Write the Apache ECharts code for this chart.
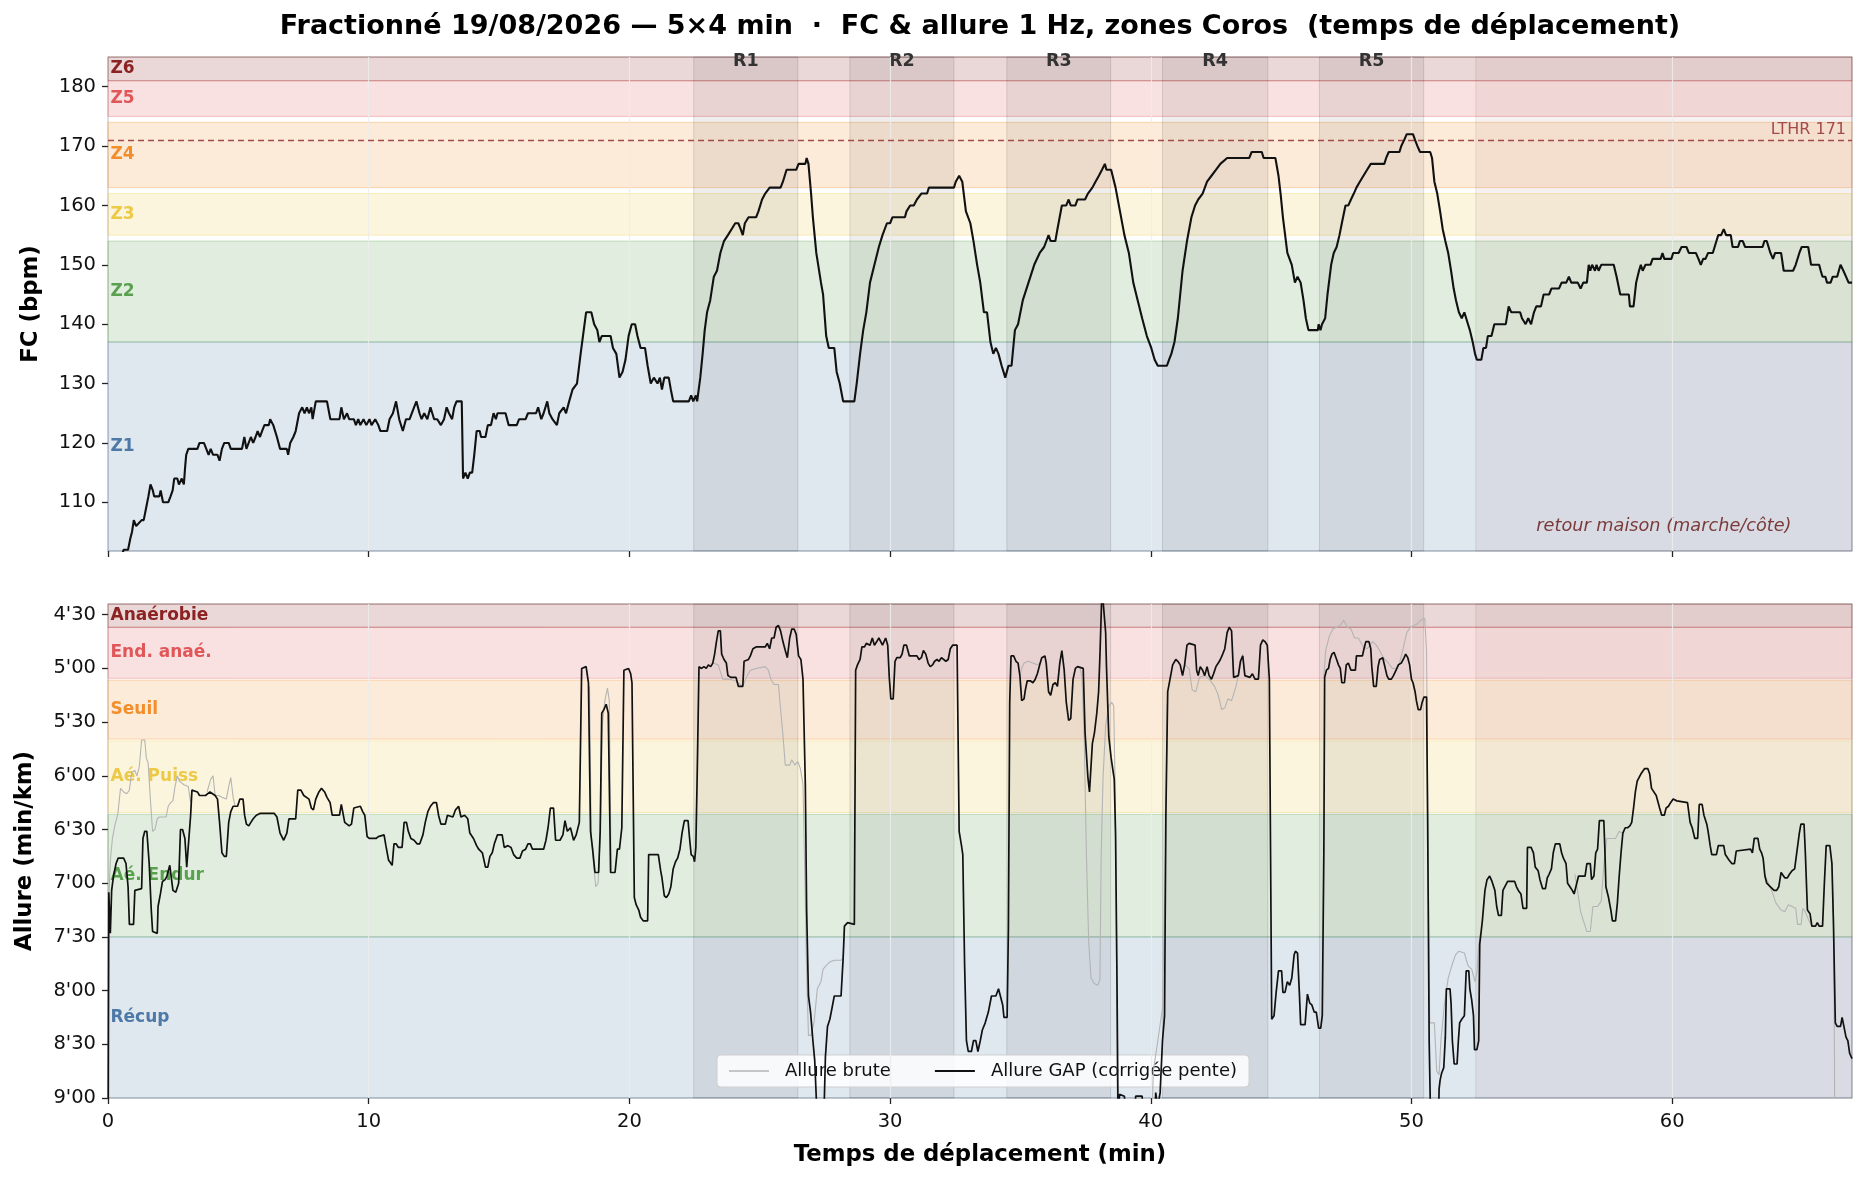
<!DOCTYPE html>
<html>
<head>
<meta charset="utf-8">
<script src="https://cdn.jsdelivr.net/npm/echarts@6/dist/echarts.min.js"></script>
<style>
  html, body { margin: 0; padding: 0; background: #fff; }
  #main { width: 1865px; height: 1179px; }
</style>
</head>
<body>
<div id="main"></div>
<script>
// ---- données ----
// FC (bpm) : [minute, bpm]
var fcPoints = [
  [0,96],[0.45,100],[0.6,102],[0.77,102],[0.86,104],[0.92,105],[0.99,107],[1.08,106],[1.29,107],[1.37,107],[1.46,109],[1.55,111],[1.63,113],[1.72,112],[1.77,111],[1.97,111],[2.02,112],[2.11,110],[2.31,110],[2.4,111],[2.48,112],[2.54,114],[2.66,114],[2.72,113],[2.83,114],[2.91,113],[2.96,116],[3.0,118],[3.08,119],[3.43,119],[3.51,120],[3.68,120],[3.77,119],[3.86,118],[3.94,119],[4.03,118],[4.2,118],[4.28,117],[4.37,119],[4.46,120],[4.63,120],[4.71,119],[5.14,119],[5.23,121],[5.31,119],[5.48,121],[5.57,120],[5.66,121],[5.74,122],[5.83,121],[5.91,122],[6.0,123],[6.17,123],[6.22,124],[6.34,123],[6.48,121],[6.6,119],[6.86,119],[6.91,118],[6.99,120],[7.11,121],[7.2,122],[7.33,125],[7.45,126],[7.54,125],[7.63,126],[7.71,125],[7.8,126],[7.85,124],[7.97,127],[8.4,127],[8.53,124],[8.88,124],[8.95,126],[9.05,124],[9.17,125],[9.25,124],[9.43,124],[9.51,123],[9.6,124],[9.68,123],[9.8,124],[9.91,123],[10.03,124],[10.11,123],[10.25,124],[10.37,123],[10.45,122],[10.71,122],[10.8,124],[10.93,125],[11.05,127],[11.17,124],[11.31,122],[11.43,124],[11.57,124],[11.74,126],[11.83,127],[11.95,125],[12.03,124],[12.13,125],[12.25,124],[12.37,126],[12.51,124],[12.63,124],[12.77,123],[12.89,124],[12.99,126],[13.08,125],[13.2,124],[13.28,126],[13.37,127],[13.57,127],[13.62,114],[13.71,115],[13.8,114],[13.88,115],[13.97,115],[14.05,118],[14.14,122],[14.26,122],[14.31,121],[14.48,121],[14.57,123],[14.69,123],[14.79,125],[14.88,124],[14.94,125],[15.25,125],[15.37,123],[15.68,123],[15.77,124],[16.02,124],[16.11,125],[16.42,125],[16.5,126],[16.62,124],[16.71,125],[16.85,127],[16.93,125],[17.05,124],[17.22,123],[17.31,125],[17.48,126],[17.57,125],[17.69,127],[17.82,129],[17.99,130],[18.13,135],[18.25,139],[18.34,142],[18.54,142],[18.65,140],[18.77,139],[18.85,137],[18.94,138],[19.28,138],[19.37,136],[19.5,135],[19.62,131],[19.74,132],[19.85,134],[19.97,138],[20.09,140],[20.22,140],[20.31,138],[20.43,136],[20.6,136],[20.7,133],[20.82,130],[20.94,131],[21.08,130],[21.17,131],[21.25,129],[21.34,131],[21.51,131],[21.59,129],[21.68,127],[22.28,127],[22.37,128],[22.45,127],[22.55,128],[22.6,127],
  [22.72,131],[22.81,135],[22.89,139],[22.98,142],[23.1,144],[23.24,148],[23.36,149],[23.49,152],[23.63,154],[23.78,155],[23.92,156],[24.06,157],[24.18,157],[24.27,156],[24.35,155],[24.43,157],[24.57,158],[24.86,158],[24.95,159],[25.09,161],[25.21,162],[25.38,163],[25.8,163],[25.89,164],[26.03,166],[26.4,166],[26.49,167],[26.75,167],[26.8,168],[26.87,167],[26.97,162],[27.04,158],[27.17,152],[27.35,147],[27.43,145],[27.55,138],[27.65,136],[27.86,136],[27.95,132],[28.07,130],[28.2,127],[28.63,127],[28.72,130],[28.85,135],[28.97,139],[29.09,142],[29.23,147],[29.4,150],[29.57,153],[29.71,155],[29.88,157],[30.0,157],[30.09,158],[30.17,158],[30.57,158],[30.63,159],[30.77,160],[30.91,160],[31.03,161],[31.2,162],[31.42,162],[31.49,163],[32.45,163],[32.52,164],[32.65,165],[32.77,164],[32.91,159],[33.08,157],[33.2,154],[33.34,150],[33.46,147],[33.6,142],[33.72,142],[33.85,137],[33.96,135],[34.06,136],[34.16,135],[34.28,133],[34.42,131],[34.54,133],[34.66,133],[34.79,139],[34.91,140],[35.09,144],[35.31,147],[35.53,150],[35.74,152],[35.91,153],[36.08,155],[36.16,154],[36.34,154],[36.42,156],[36.59,160],[36.76,160],[36.85,161],[36.93,160],[37.11,160],[37.19,161],[37.48,161],[37.59,162],[37.76,163],[37.88,164],[38.01,165],[38.13,166],[38.24,167],[38.3,166],[38.48,166],[38.65,163],[38.82,159],[38.99,155],[39.16,152],[39.33,147],[39.5,144],[39.67,141],[39.85,138],[40.02,136],[40.15,134],[40.27,133],[40.62,133],[40.7,134],[40.79,135],[40.91,137],[41.04,141],[41.22,149],[41.39,154],[41.56,158],[41.7,160],[41.82,161],[41.99,162],[42.16,164],[42.33,165],[42.5,166],[42.67,167],[42.93,168],[43.78,168],[43.87,169],[44.26,169],[44.33,168],[44.78,168],[44.9,165],[44.98,162],[45.07,158],[45.24,152],[45.41,150],[45.53,147],[45.63,148],[45.75,147],[45.86,144],[45.95,141],[46.05,139],[46.41,139],[46.44,140],[46.51,139],[46.57,140],[46.69,141],[46.78,145],[46.92,150],[47.02,152],[47.13,153],[47.24,155],[47.33,157],[47.47,160],[47.58,160],[47.68,161],[47.79,162],[47.89,163],[48.02,164],[48.16,165],[48.3,166],[48.44,167],[48.96,167],[49.03,168],[49.13,169],[49.54,169],[49.61,170],[49.72,171],[49.82,172],[50.06,172],[50.14,171],[50.23,170],[50.33,169],[50.72,169],[50.79,168],[50.88,164],[50.99,162],[51.1,159],[51.2,156],[51.3,154],[51.41,152],[51.52,149],[51.62,146],[51.71,144],[51.82,142],[51.93,141],[52.03,142],[52.1,141],[52.17,140],[52.24,139],[52.35,137],[52.44,135],[52.51,134],[52.68,134],[52.76,136],[52.86,136],[52.93,138],[53.07,138],[53.18,140],[53.62,140],[53.73,143],[53.83,142],[54.17,142],[54.24,141],[54.38,140],[54.48,141],[54.59,140],[54.7,142],[54.79,143],[54.97,143],[55.07,145],[55.28,145],[55.37,146],[55.66,146],[55.76,147],[55.94,147],[56.04,148],[56.13,147],[56.38,147],[56.49,146],[56.59,147],[56.73,147],[56.8,150],[56.86,149],[56.93,150],[57.04,149],[57.1,150],[57.18,149],[57.28,150],[57.76,150],[57.87,148],[58.01,145],[58.25,145],[58.34,145],[58.38,143],[58.52,143],[58.62,147],[58.73,149],[58.8,150],[58.87,149],[58.98,150],[59.17,150],[59.25,151],[59.56,151],[59.63,152],[59.7,151],[59.97,151],[60.04,152],[60.25,152],[60.36,153],[60.55,153],[60.64,152],[60.91,152],[61.01,151],[61.1,150],[61.19,151],[61.28,151],[61.38,152],[61.56,152],[61.7,154],[61.77,155],[61.88,155],[61.98,156],[62.07,155],[62.25,155],[62.32,153],[62.53,153],[62.6,154],[62.71,154],[62.8,153],[63.47,153],[63.54,154],[63.63,154],[63.7,153],[63.77,152],[63.87,151],[63.95,152],[64.18,152],[64.28,149],[64.64,149],[64.74,150],[64.88,152],[64.97,153],[65.22,153],[65.33,150],[65.64,150],[65.7,149],[65.77,148],[65.88,148],[65.94,147],[66.08,147],[66.16,148],[66.33,148],[66.46,150],[66.57,149],[66.67,148],[66.77,147],[66.9,147]
];

// Allure GAP (s/km) : [minute, secondes]
var gapPoints = [
  [0,600],[0.03,425],[0.09,448],[0.14,424],[0.21,416],[0.31,409],[0.39,406],[0.6,406],[0.69,409],[0.77,422],[0.82,443],[0.98,443],[1.03,424],[1.29,423],[1.34,395],[1.41,391],[1.49,391],[1.58,409],[1.66,435],[1.71,447],[1.89,448],[1.92,433],[2.01,426],[2.09,419],[2.19,418],[2.26,416],[2.37,410],[2.49,424],[2.6,425],[2.71,420],[2.78,390],[2.86,390],[2.95,395],[3.02,411],[3.08,411],[3.17,382],[3.22,368],[3.43,369],[3.51,371],[3.74,371],[3.8,370],[3.91,369],[4.11,371],[4.2,373],[4.28,386],[4.37,403],[4.46,405],[4.54,405],[4.63,386],[4.71,380],[4.8,377],[4.97,377],[5.06,373],[5.18,373],[5.24,382],[5.31,387],[5.4,388],[5.48,386],[5.57,384],[5.69,382],[5.83,381],[6.38,381],[6.48,383],[6.6,392],[6.74,396],[6.86,392],[6.94,384],[7.2,384],[7.28,368],[7.4,368],[7.51,371],[7.71,373],[7.8,378],[7.88,379],[7.97,373],[8.09,369],[8.19,367],[8.31,369],[8.4,372],[8.52,375],[8.6,382],[8.88,382],[8.95,376],[9.01,376],[9.08,386],[9.25,388],[9.34,387],[9.43,378],[9.68,377],[9.77,380],[9.85,382],[9.94,394],[10.03,395],[10.28,395],[10.37,394],[10.59,393],[10.66,399],[10.76,407],[10.9,410],[10.97,398],[11.05,398],[11.14,400],[11.28,400],[11.36,386],[11.45,386],[11.52,391],[11.62,395],[11.74,396],[11.86,398],[11.96,398],[12.08,393],[12.17,386],[12.27,380],[12.37,377],[12.48,375],[12.6,375],[12.68,382],[12.77,387],[12.94,387],[13.02,382],[13.23,383],[13.33,379],[13.45,377],[13.54,383],[13.68,382],[13.8,384],[13.88,392],[14.02,395],[14.14,399],[14.22,401],[14.36,403],[14.48,411],[14.57,411],[14.65,405],[14.74,403],[14.82,398],[14.94,393],[15.12,393],[15.2,400],[15.34,399],[15.46,400],[15.56,404],[15.68,406],[15.8,406],[15.9,402],[16.02,401],[16.11,398],[16.2,398],[16.28,401],[16.71,401],[16.8,396],[16.88,389],[16.97,378],[17.09,378],[17.17,396],[17.34,396],[17.45,393],[17.53,385],[17.62,391],[17.74,389],[17.86,396],[17.96,393],[18.08,386],[18.17,300],[18.34,299],[18.43,308],[18.51,391],[18.59,401],[18.68,414],[18.82,414],[18.88,391],[18.94,325],[19.02,323],[19.11,320],[19.19,325],[19.28,414],[19.45,414],[19.54,401],[19.62,401],[19.71,389],[19.79,301],[19.97,300],[20.05,303],[20.1,308],[20.19,428],[20.26,432],[20.36,435],[20.43,439],[20.53,441],[20.7,441],[20.74,404],[21.11,404],[21.2,413],[21.25,417],[21.34,427],[21.42,428],[21.51,426],[21.59,422],[21.68,412],[21.77,408],[21.85,406],[21.94,401],[22.02,392],[22.11,385],[22.25,385],[22.31,395],[22.37,404],[22.45,405],[22.5,408],[22.55,400],[22.6,361],
  [22.67,299],[22.77,300],[22.86,299],[22.95,300],[23.03,298],[23.12,299],[23.2,297],[23.27,292],[23.34,285],[23.41,279],[23.49,279],[23.54,292],[23.63,295],[23.72,297],[23.78,304],[23.89,305],[24.09,305],[24.18,310],[24.35,310],[24.4,296],[24.47,295],[24.57,295],[24.64,293],[24.74,289],[24.86,288],[25.21,288],[25.29,286],[25.38,289],[25.46,283],[25.55,283],[25.63,277],[25.72,276],[25.8,279],[25.89,285],[25.98,290],[26.06,294],[26.15,283],[26.23,278],[26.32,278],[26.4,281],[26.49,293],[26.58,295],[26.66,306],[26.75,365],[26.8,435],[26.87,483],[26.95,492],[27.04,508],[27.11,519],[27.17,540],[27.24,580],[27.41,580],[27.48,540],[27.52,517],[27.6,500],[27.69,496],[27.77,490],[27.86,483],[28.12,483],[28.2,462],[28.25,444],[28.37,442],[28.63,443],[28.68,301],[28.75,298],[28.85,295],[28.92,288],[29.02,288],[29.09,286],[29.23,287],[29.32,283],[29.4,287],[29.49,285],[29.57,283],[29.71,287],[29.83,283],[29.91,287],[29.97,305],[30.03,317],[30.12,317],[30.19,296],[30.26,294],[30.39,294],[30.46,292],[30.53,287],[30.63,287],[30.74,293],[31.03,293],[31.11,295],[31.2,294],[31.28,290],[31.37,292],[31.46,297],[31.54,299],[31.63,298],[31.71,296],[31.8,295],[31.88,296],[31.97,294],[32.14,296],[32.23,295],[32.31,289],[32.4,287],[32.57,287],[32.65,391],[32.74,399],[32.79,404],[32.86,466],[32.93,508],[33.0,514],[33.12,514],[33.2,508],[33.29,508],[33.37,514],[33.46,508],[33.54,502],[33.65,498],[33.77,492],[33.89,483],[34.06,483],[34.16,479],[34.23,480],[34.32,488],[34.37,495],[34.49,495],[34.54,445],[34.59,319],[34.64,293],[34.74,293],[34.83,296],[34.91,297],[34.98,304],[35.05,318],[35.14,317],[35.19,312],[35.26,307],[35.39,307],[35.48,308],[35.57,306],[35.65,303],[35.74,298],[35.82,294],[35.94,293],[35.99,297],[36.08,313],[36.16,315],[36.25,309],[36.34,308],[36.42,310],[36.51,297],[36.59,290],[36.68,301],[36.76,319],[36.85,329],[36.93,328],[37.02,306],[37.11,300],[37.19,299],[37.41,300],[37.48,336],[37.59,361],[37.65,369],[37.71,369],[37.76,342],[37.84,336],[37.93,325],[38.0,313],[38.05,293],[38.13,255],[38.2,255],[38.27,280],[38.3,298],[38.39,338],[38.48,350],[38.6,362],[38.65,393],[38.7,466],[38.75,560],[38.8,538],[38.99,539],[39.05,560],[39.38,560],[39.42,539],[39.67,539],[39.72,560],[40.14,560],[40.19,537],[40.27,545],[40.36,537],[40.45,508],[40.53,494],[40.58,382],[40.65,313],[40.74,306],[40.84,298],[40.96,295],[41.04,296],[41.13,298],[41.22,304],[41.3,298],[41.39,287],[41.47,286],[41.7,287],[41.76,301],[41.82,304],[41.9,299],[41.99,301],[42.07,304],[42.16,299],[42.24,304],[42.33,306],[42.41,303],[42.5,299],[42.59,297],[42.67,295],[42.76,292],[42.84,289],[42.93,280],[43.01,277],[43.1,279],[43.18,305],[43.36,304],[43.44,296],[43.53,293],[43.61,304],[43.8,305],[43.9,303],[44.0,306],[44.13,306],[44.21,287],[44.3,284],[44.38,285],[44.47,287],[44.55,306],[44.64,496],[44.73,494],[44.81,481],[44.9,469],[45.02,469],[45.07,481],[45.15,481],[45.24,475],[45.33,477],[45.41,473],[45.5,460],[45.55,458],[45.63,459],[45.7,481],[45.75,499],[45.92,499],[46.01,482],[46.1,487],[46.18,488],[46.27,492],[46.35,492],[46.44,501],[46.52,501],[46.58,494],
  [46.64,403],[46.67,305],[46.74,301],[46.82,300],[46.88,295],[46.95,292],[47.03,291],[47.13,295],[47.2,298],[47.27,300],[47.33,308],[47.43,308],[47.5,298],[47.58,297],[47.68,301],[47.85,301],[47.89,293],[47.96,292],[48.12,293],[48.18,289],[48.25,285],[48.3,284],[48.37,285],[48.44,289],[48.48,299],[48.55,310],[48.65,310],[48.72,299],[48.78,295],[48.9,294],[48.96,295],[49.06,304],[49.13,306],[49.23,306],[49.31,304],[49.41,301],[49.5,298],[49.61,297],[49.72,294],[49.78,292],[49.86,294],[49.93,298],[50.0,306],[50.06,308],[50.14,313],[50.19,318],[50.26,323],[50.35,323],[50.41,319],[50.48,316],[50.58,316],[50.62,382],[50.68,508],[50.72,540],[50.77,580],[51.02,580],[51.06,535],[51.1,530],[51.16,526],[51.24,523],[51.3,506],[51.34,479],[51.48,479],[51.52,487],[51.57,508],[51.64,521],[51.75,521],[51.8,508],[51.85,498],[51.93,496],[52.03,494],[52.1,469],[52.2,469],[52.24,479],[52.31,485],[52.38,494],[52.42,513],[52.51,513],[52.58,508],[52.62,454],[52.72,441],[52.82,424],[52.9,418],[53.0,416],[53.09,419],[53.2,424],[53.27,433],[53.34,438],[53.45,438],[53.51,424],[53.58,422],[53.69,419],[53.96,419],[54.03,422],[54.1,424],[54.2,426],[54.28,434],[54.42,434],[54.45,400],[54.59,400],[54.68,403],[54.75,411],[54.86,413],[54.93,418],[55.03,423],[55.14,423],[55.21,417],[55.28,415],[55.37,412],[55.44,403],[55.52,398],[55.69,398],[55.76,403],[55.83,406],[55.93,409],[55.99,420],[56.08,422],[56.17,424],[56.24,426],[56.31,427],[56.41,416],[56.66,416],[56.73,409],[56.86,409],[56.91,418],[57.0,416],[57.07,403],[57.14,401],[57.21,385],[57.38,385],[57.42,401],[57.46,422],[57.56,428],[57.65,435],[57.71,441],[57.83,441],[57.9,431],[57.97,416],[58.04,403],[58.11,392],[58.2,389],[58.29,389],[58.38,388],[58.45,386],[58.52,378],[58.59,369],[58.66,363],[58.73,362],[58.8,359],[58.87,360],[58.94,356],[59.07,356],[59.14,359],[59.21,367],[59.28,368],[59.39,371],[59.45,371],[59.52,378],[59.6,382],[59.7,382],[59.77,378],[59.86,377],[59.94,375],[60.04,373],[60.18,374],[60.59,375],[60.69,386],[60.77,389],[60.87,395],[60.98,395],[61.04,376],[61.15,376],[61.22,382],[61.33,387],[61.38,391],[61.46,399],[61.52,404],[61.7,404],[61.77,399],[61.98,399],[62.04,404],[62.11,405],[62.18,407],[62.29,409],[62.39,409],[62.46,402],[62.53,401],[63.01,401],[63.08,403],[63.15,395],[63.29,395],[63.36,401],[63.43,403],[63.49,406],[63.56,416],[63.63,420],[63.77,422],[63.91,424],[64.01,424],[64.09,422],[64.18,414],[64.25,414],[64.32,417],[64.42,417],[64.5,415],[64.6,413],[64.7,412],[64.78,403],[64.88,392],[64.94,387],[65.06,387],[65.11,403],[65.19,435],[65.29,437],[65.36,444],[65.5,444],[65.57,442],[65.64,444],[65.77,444],[65.84,420],[65.91,399],[66.05,399],[66.13,409],[66.19,443],[66.26,498],[66.33,500],[66.46,500],[66.52,495],[66.59,500],[66.67,506],[66.74,508],[66.81,515],[66.9,518]
];

// Allure brute (s/km), seulement là où elle se détache de la GAP ; null = coupure
var brutePoints = [
  [0,600],[0.03,430],[0.09,407],[0.17,395],[0.26,388],[0.38,381],[0.48,367],[0.6,369],[0.72,370],[0.82,368],[0.91,358],[1.03,357],[1.11,360],[1.2,355],[1.29,340],[1.41,340],[1.47,350],[1.54,353],[1.63,374],[1.71,391],[1.8,390],[1.89,384],[1.97,383],[2.23,383],[2.31,377],[2.4,375],[2.49,374],[2.57,366],[2.66,360],[2.74,363],[2.91,365],[3.08,366],[3.17,375],[3.22,368],
  null,
  [3.8,369],[3.94,362],[4.03,360],[4.11,371],[4.25,371],[4.37,372],[4.54,373],[4.63,366],[4.71,361],[4.8,372],[4.88,377],
  null,
  [18.47,310],[18.54,395],[18.63,410],[18.71,422],[18.8,420],[18.88,395],[18.97,330],[19.06,318],[19.16,311],[19.23,318],[19.3,413],
  null,
  [23.2,297],[23.27,296],[23.41,298],[23.58,306],[23.84,306],[24.09,307],[24.35,310],[24.52,304],[24.64,301],[24.86,300],[25.21,299],[25.33,301],[25.43,306],[25.55,309],[25.72,309],[25.8,323],[25.89,337],[25.98,354],[26.15,354],[26.23,351],[26.35,354],[26.46,352],[26.56,356],[26.66,365],[26.75,430],[26.8,470],[26.87,505],[26.97,505],[27.09,497],[27.21,479],[27.35,475],[27.43,468],[27.55,466],[27.69,464],[27.86,463],[28.12,463],[28.2,462],[28.25,444],
  null,
  [34.98,304],[35.05,300],[35.14,297],[35.3,296],[35.48,297],[35.65,298],[35.74,297],
  null,
  [37.28,299],[37.36,305],[37.45,340],[37.53,403],[37.62,453],[37.71,473],[37.83,476],[37.96,477],[38.05,474],[38.1,403],[38.17,361],[38.27,332],[38.39,321],[38.51,319],[38.58,321],[38.65,382],[38.73,560],[40.02,560],[40.1,525],[40.27,508],[40.45,490],[40.57,400],[40.63,320],
  null,
  [41.3,298],[41.47,300],[41.59,312],[41.73,313],[41.87,305],[42.07,304],[42.24,306],[42.45,310],[42.59,315],[42.72,323],[42.84,322],[42.96,317],[43.1,318],[43.27,310],[43.41,300],[43.53,292],
  null,
  [46.64,305],[46.71,290],[46.85,282],[46.99,278],[47.13,277],[47.27,276],[47.4,273],[47.54,277],[47.68,278],[47.82,283],[47.96,283],[48.16,288],[48.3,289],[48.51,285],[48.65,287],[48.78,290],[48.92,294],[49.06,296],[49.27,300],[49.41,300],[49.54,297],[49.68,289],[49.82,280],[49.96,277],[50.1,276],[50.23,275],[50.37,273],[50.51,272],[50.58,290],[50.64,400],[50.7,498],[50.88,498],[50.97,525],[51.06,527],[51.13,508],[51.27,487],[51.41,473],[51.55,466],[51.69,460],[51.82,458],[52.03,459],[52.17,466],[52.31,468],[52.44,475],[52.51,470],[52.58,455],[52.65,448],
  null,
  [56.27,415],[56.38,425],[56.49,436],[56.62,442],[56.73,447],[56.86,447],[56.96,433],[57.14,433],[57.28,430],[57.38,410],[57.49,395],[57.62,395],[57.83,395],[57.97,391],[58.07,392],
  null,
  [63.56,416],[63.7,420],[63.84,425],[63.98,431],[64.18,435],[64.32,436],[64.46,432],[64.6,433],[64.74,434],[64.81,443],[64.95,443],[65.01,434],[65.11,436],[65.22,440],[65.36,444],
  null,
  [66.13,409],[66.19,443],[66.23,520],[66.24,700],[66.9,700]
];

// zones FC Coros (bpm)
var fcZoneNames = ['Z1', 'Z2', 'Z3', 'Z4', 'Z5', 'Z6'];
var fcZoneLow   = [90, 137, 155, 163, 175, 181];
var fcZoneHigh  = [137, 154, 162, 174, 181, 200];
var lthr = 171;

// zones d'allure Coros (s/km)
var paceZoneNames = ['Récup', 'Aé. Endur', 'Aé. Puiss', 'Seuil', 'End. anaé.', 'Anaérobie'];
var paceZoneSlow  = [600, 450, 380.5, 339.5, 305.5, 277];
var paceZoneFast  = [450, 381.5, 340.5, 306.5, 277, 240];

// répétitions (min)
var repNames = ['R1', 'R2', 'R3', 'R4', 'R5'];
var repStart = [22.47, 28.46, 34.48, 40.45, 46.47];
var repEnd   = [26.46, 32.45, 38.46, 44.49, 50.47];
var retourStart = 52.47;
var retourLabel = 'retour maison (marche/côte)';

// axes
var tMax = 66.9;
var fcMin = 101.8, fcMax = 185;
var paceMin = 264, paceMax = 540;
var timeTicks = [0, 10, 20, 30, 40, 50, 60];
var fcTicks = [110, 120, 130, 140, 150, 160, 170, 180];
var paceTicks = [270, 300, 330, 360, 390, 420, 450, 480, 510, 540];

// ---- mise en forme ----
var zoneColors = ['#4e79a7', '#59a14f', '#edc948', '#f28e2b', '#e15759', '#8b2323'];
var FONT = 'DejaVu Sans';

function rgba(hex, a) {
  var n = parseInt(hex.slice(1), 16);
  return 'rgba(' + (n >> 16 & 255) + ',' + (n >> 8 & 255) + ',' + (n & 255) + ',' + a + ')';
}
function paceLabel(v) {
  var m = Math.floor(v / 60), s = Math.round(v - m * 60);
  return m + "'" + (s < 10 ? '0' + s : s);
}

function zoneAreas(names, lows, highs, yMin, yMax) {
  return names.map(function (n, i) {
    var a = Math.max(Math.min(lows[i], highs[i]), yMin);
    var b = Math.min(Math.max(lows[i], highs[i]), yMax);
    return [{
      xAxis: 0, yAxis: a,
      itemStyle: { color: rgba(zoneColors[i], 0.18), borderColor: rgba(zoneColors[i], 0.32), borderWidth: 1 },
      label: { show: true, formatter: n, position: [3, '50%'], align: 'left', verticalAlign: 'middle',
               color: zoneColors[i], fontWeight: 'bold', fontSize: 17, fontFamily: FONT }
    }, { xAxis: tMax, yAxis: b }];
  });
}

function repAreas(yMin, yMax, withLabels) {
  var out = repNames.map(function (n, i) {
    return [{
      xAxis: repStart[i], yAxis: yMin,
      itemStyle: { color: 'rgba(0,0,0,0.065)', borderColor: 'rgba(0,0,0,0.12)', borderWidth: 1 },
      label: { show: withLabels, formatter: n, position: ['50%', 5], align: 'center', verticalAlign: 'middle',
               color: '#333', fontWeight: 'bold', fontSize: 17.5, fontFamily: FONT }
    }, { xAxis: repEnd[i], yAxis: yMax }];
  });
  out.push([{
    xAxis: retourStart, yAxis: yMin,
    itemStyle: { color: 'rgba(123,58,58,0.065)', borderColor: 'rgba(123,58,58,0.12)', borderWidth: 1 },
    label: { show: withLabels, formatter: retourLabel, position: ['50%', 470], align: 'center', verticalAlign: 'middle',
             color: '#7b3a3a', fontStyle: 'italic', fontSize: 17.7, fontFamily: FONT }
  }, { xAxis: tMax, yAxis: yMax }]);
  return out;
}

function gridLines() {
  return timeTicks.filter(function (t) { return t > 0; }).map(function (t) { return { xAxis: t }; });
}

var bruteData = [];
var lastT = 0;
brutePoints.forEach(function (p) {
  if (p === null) { bruteData.push([lastT, '-']); }
  else { bruteData.push(p); lastT = p[0]; }
});

var myChart = echarts.init(document.getElementById('main'), null, { renderer: 'canvas' });

var tickStyle = { show: true, length: 6, lineStyle: { color: '#222', width: 1.3 } };
var labelStyle = { color: '#111', fontSize: 19.5, fontFamily: FONT };

var option = {
  animation: false,
  backgroundColor: '#ffffff',
  textStyle: { fontFamily: FONT },
  grid: [
    { left: 108, top: 57, width: 1744, height: 494, show: true, borderColor: '#cccccc', borderWidth: 1.3, backgroundColor: 'transparent' },
    { left: 108, top: 604, width: 1744, height: 494, show: true, borderColor: '#cccccc', borderWidth: 1.3, backgroundColor: 'transparent' }
  ],
  xAxis: [
    { gridIndex: 0, type: 'value', min: 0, max: tMax,
      axisLine: { show: false }, splitLine: { show: false },
      axisTick: Object.assign({ customValues: timeTicks }, tickStyle),
      axisLabel: { show: false, customValues: timeTicks } },
    { gridIndex: 1, type: 'value', min: 0, max: tMax,
      axisLine: { show: false }, splitLine: { show: false },
      axisTick: Object.assign({ customValues: timeTicks }, tickStyle),
      axisLabel: Object.assign({ customValues: timeTicks, margin: 14 }, labelStyle) }
  ],
  yAxis: [
    { gridIndex: 0, type: 'value', min: fcMin, max: fcMax,
      axisLine: { show: false }, splitLine: { show: false },
      axisTick: Object.assign({ customValues: fcTicks }, tickStyle),
      axisLabel: Object.assign({ customValues: fcTicks, margin: 12 }, labelStyle) },
    { gridIndex: 1, type: 'value', min: paceMin, max: paceMax, inverse: true,
      axisLine: { show: false }, splitLine: { show: false },
      axisTick: Object.assign({ customValues: paceTicks }, tickStyle),
      axisLabel: Object.assign({ customValues: paceTicks, margin: 12, formatter: paceLabel }, labelStyle) }
  ],
  legend: {
    data: [
      { name: 'Allure brute', icon: 'path://M0,0h40v1.3h-40z' },
      { name: 'Allure GAP (corrigée pente)', icon: 'path://M0,0h40v2.2h-40z' }
    ],
    left: 717, top: 1055,
    itemWidth: 40, itemHeight: 14, itemGap: 44,
    padding: [7, 12],
    backgroundColor: 'rgba(255,255,255,0.85)',
    borderColor: '#cfcfcf', borderWidth: 1, borderRadius: 4,
    textStyle: { fontSize: 18, color: '#111', fontFamily: FONT, padding: [0, 0, 0, 11] }
  },
  graphic: [
    { type: 'text', x: 980, y: 27, z: 10,
      style: { text: 'Fractionné 19/08/2026 — 5×4 min  ·  FC & allure 1 Hz, zones Coros  (temps de déplacement)',
               fontSize: 27, fontWeight: 'bold', fontFamily: FONT, fill: '#000', align: 'center', verticalAlign: 'middle' } },
    { type: 'text', x: 31, y: 304, rotation: Math.PI / 2, z: 10,
      style: { text: 'FC (bpm)', fontSize: 22.8, fontWeight: 'bold', fontFamily: FONT, fill: '#000', align: 'center', verticalAlign: 'middle' } },
    { type: 'text', x: 25, y: 851, rotation: Math.PI / 2, z: 10,
      style: { text: 'Allure (min/km)', fontSize: 22.8, fontWeight: 'bold', fontFamily: FONT, fill: '#000', align: 'center', verticalAlign: 'middle' } },
    { type: 'text', x: 980, y: 1155, z: 10,
      style: { text: 'Temps de déplacement (min)', fontSize: 22.8, fontWeight: 'bold', fontFamily: FONT, fill: '#000', align: 'center', verticalAlign: 'middle' } }
  ],
  series: [
    // --- panneau FC ---
    { name: 'zonesFC', type: 'line', xAxisIndex: 0, yAxisIndex: 0, data: [], z: 1, silent: true,
      markArea: { silent: true, label: { show: false }, data: zoneAreas(fcZoneNames, fcZoneLow, fcZoneHigh, fcMin, fcMax) } },
    { name: 'repsFC', type: 'line', xAxisIndex: 0, yAxisIndex: 0, data: [], z: 2, silent: true,
      markArea: { silent: true, label: { show: false }, data: repAreas(fcMin, fcMax, true) } },
    { name: 'gridFC', type: 'line', xAxisIndex: 0, yAxisIndex: 0, data: [], z: 3, silent: true,
      markLine: { silent: true, symbol: 'none', label: { show: false },
                  lineStyle: { color: 'rgba(236,236,236,0.85)', width: 1.2, type: 'solid' }, data: gridLines() } },
    { name: 'lthr', type: 'line', xAxisIndex: 0, yAxisIndex: 0, data: [], z: 4, silent: true,
      markLine: { silent: true, symbol: 'none',
                  lineStyle: { color: '#a34a4a', width: 1.4, type: [6, 4] },
                  label: { show: true, position: 'insideEndTop', formatter: 'LTHR ' + lthr, color: '#a34a4a',
                           fontSize: 16, fontFamily: FONT, distance: [6, 2] },
                  data: [{ yAxis: lthr }] } },
    { name: 'FC', type: 'line', xAxisIndex: 0, yAxisIndex: 0, data: fcPoints, z: 5,
      showSymbol: false, symbol: 'none', clip: true, silent: true,
      lineStyle: { color: '#111', width: 2.1 } },

    // --- panneau allure ---
    { name: 'zonesAllure', type: 'line', xAxisIndex: 1, yAxisIndex: 1, data: [], z: 1, silent: true,
      markArea: { silent: true, label: { show: false }, data: zoneAreas(paceZoneNames, paceZoneFast, paceZoneSlow, paceMin, paceMax) } },
    { name: 'repsAllure', type: 'line', xAxisIndex: 1, yAxisIndex: 1, data: [], z: 2, silent: true,
      markArea: { silent: true, label: { show: false }, data: repAreas(paceMin, paceMax, false) } },
    { name: 'gridAllure', type: 'line', xAxisIndex: 1, yAxisIndex: 1, data: [], z: 3, silent: true,
      markLine: { silent: true, symbol: 'none', label: { show: false },
                  lineStyle: { color: 'rgba(236,236,236,0.85)', width: 1.2, type: 'solid' }, data: gridLines() } },
    { name: 'Allure brute', type: 'line', xAxisIndex: 1, yAxisIndex: 1, data: bruteData, z: 5,
      showSymbol: false, symbol: 'none', clip: true, connectNulls: false, silent: true,
      itemStyle: { color: '#b4b4b4' },
      lineStyle: { color: '#b4b4b4', width: 1.1 } },
    { name: 'Allure GAP (corrigée pente)', type: 'line', xAxisIndex: 1, yAxisIndex: 1, data: gapPoints, z: 6,
      showSymbol: false, symbol: 'none', clip: true, silent: true,
      itemStyle: { color: '#111' },
      lineStyle: { color: '#111', width: 1.7 } }
  ]
};

myChart.setOption(option);
</script>
</body>
</html>
